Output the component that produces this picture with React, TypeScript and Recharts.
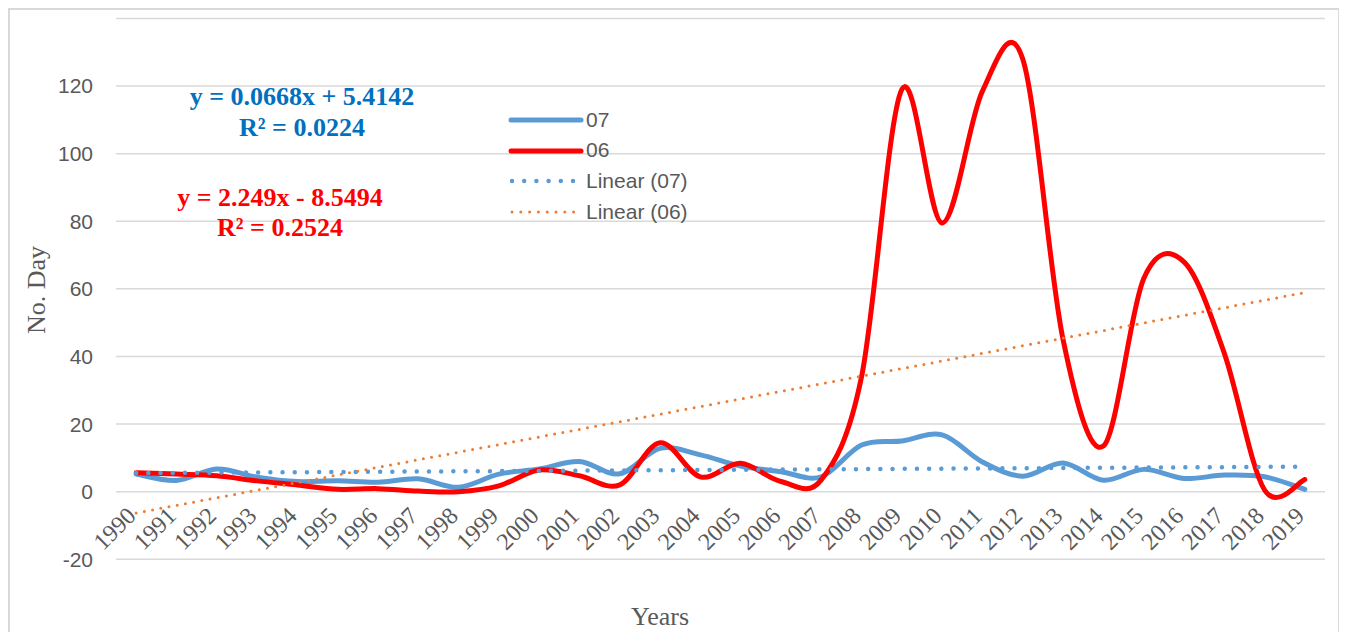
import React from "react";
import { LineChart, Line, XAxis, YAxis, CartesianGrid, Legend } from "recharts";

const years = [
  1990, 1991, 1992, 1993, 1994, 1995, 1996, 1997, 1998, 1999,
  2000, 2001, 2002, 2003, 2004, 2005, 2006, 2007, 2008, 2009,
  2010, 2011, 2012, 2013, 2014, 2015, 2016, 2017, 2018, 2019,
];
const days07 = [
  5.2, 3.3, 6.7, 4.3, 3.0, 3.2, 2.8, 3.8, 1.3, 5.2,
  6.7, 8.9, 5.3, 12.8, 10.9, 7.6, 5.9, 4.4, 13.8, 15.0,
  16.8, 8.8, 4.6, 8.5, 3.4, 6.6, 3.9, 4.9, 4.4, 0.7,
];
const days06 = [
  5.6, 5.2, 4.7, 3.2, 2.0, 0.7, 0.9, 0.2, 0.0, 1.7,
  6.4, 4.7, 2.0, 14.5, 4.4, 8.4, 3.0, 3.5, 34, 119,
  79.5, 118.5, 128, 45, 13.5, 63, 68, 41, 0.5, 3.6,
];
// trend line end points (1990 and 2019) as drawn
const trendYears = [1990, 2019];
const trend07 = [5.5, 7.4];
const trend06 = [-6.3, 58.9];
const yTicks = [-20, 0, 20, 40, 60, 80, 100, 120];

const rows = years.map((year, i) => {
  const t = trendYears.indexOf(year);
  return {
    year,
    s07: days07[i],
    s06: days06[i],
    t07: t >= 0 ? trend07[t] : null,
    t06: t >= 0 ? trend06[t] : null,
  };
});

// Excel-like smoothed line (bezier, 1/6 tangents)
const excelSmooth = (context: any) => {
  let pts: number[][] = [];
  return {
    areaStart() {},
    areaEnd() {},
    lineStart() {
      pts = [];
    },
    point(x: number, y: number) {
      pts.push([+x, +y]);
    },
    lineEnd() {
      const n = pts.length;
      if (!n) return;
      context.moveTo(pts[0][0], pts[0][1]);
      for (let i = 0; i < n - 1; i++) {
        const p0 = pts[i - 1] || pts[i];
        const p1 = pts[i];
        const p2 = pts[i + 1];
        const p3 = pts[i + 2] || p2;
        context.bezierCurveTo(
          p1[0] + (p2[0] - p0[0]) / 6,
          p1[1] + (p2[1] - p0[1]) / 6,
          p2[0] - (p3[0] - p1[0]) / 6,
          p2[1] - (p3[1] - p1[1]) / 6,
          p2[0],
          p2[1]
        );
      }
    },
  };
};

const SANS = "'Liberation Sans', Arial, sans-serif";
const SERIF = "'Liberation Serif', 'Times New Roman', serif";
const GREY = "#595959";

const legendItems = [
  { name: "07", color: "#5B9BD5", width: 5, dash: undefined as string | undefined },
  { name: "06", color: "#FF0000", width: 5, dash: undefined as string | undefined },
  { name: "Linear (07)", color: "#5B9BD5", width: 4.5, dash: "0 12.2" },
  { name: "Linear (06)", color: "#ED7D31", width: 3, dash: "0 8.8" },
];

const renderLegend = () => (
  <div style={{ fontFamily: SANS, fontSize: 21, color: GREY }}>
    {legendItems.map((it) => (
      <div key={it.name} style={{ display: "flex", alignItems: "center", height: 30.7 }}>
        <svg width={78} height={12} style={{ display: "block" }}>
          <line
            x1={it.dash ? 4 : 3}
            x2={it.dash ? 66 : 73}
            y1={6}
            y2={6}
            stroke={it.color}
            strokeWidth={it.width}
            strokeLinecap="round"
            strokeDasharray={it.dash}
          />
        </svg>
        <span style={{ lineHeight: "30.7px" }}>{it.name}</span>
      </div>
    ))}
  </div>
);

const XTick = (props: any) => {
  const { x, y, payload } = props;
  return (
    <g transform={`translate(${x + 1},${y - 50})`}>
      <text
        transform="rotate(-45)"
        textAnchor="end"
        fill={GREY}
        fontFamily={SERIF}
        fontSize={24}
      >
        {payload.value}
      </text>
    </g>
  );
};

export default function App() {
  return (
    <div
      style={{
        width: 1332,
        height: 624,
        boxSizing: "border-box",
        borderTop: "2px solid #D9D9D9",
        borderLeft: "2px solid #D9D9D9",
        borderRight: "2px solid #D9D9D9",
        background: "#fff",
        position: "relative",
      }}
    >
      <LineChart
        width={1328}
        height={622}
        data={rows}
        margin={{ top: 8.4, right: 13, left: 46, bottom: 0 }}
      >
        <CartesianGrid vertical={false} stroke="#D9D9D9" strokeWidth={1.5} />
        <XAxis
          dataKey="year"
          type="number"
          domain={[1989.5, 2019.5]}
          ticks={years}
          interval={0}
          height={72.7}
          axisLine={false}
          tickLine={false}
          tick={<XTick />}
        />
        <YAxis
          type="number"
          domain={[-20, 140]}
          ticks={yTicks}
          width={60}
          axisLine={false}
          tickLine={false}
          tickMargin={17}
          tick={{ fill: GREY, fontSize: 21, fontFamily: SANS }}
        />
        <Legend
          layout="vertical"
          align="center"
          verticalAlign="middle"
          content={renderLegend}
          wrapperStyle={{ left: 498, top: 94.6, width: 230 }}
        />
        <Line
          dataKey="s07"
          name="07"
          type={excelSmooth as any}
          stroke="#5B9BD5"
          strokeWidth={5}
          strokeLinecap="round"
          dot={false}
          activeDot={false}
          isAnimationActive={false}
        />
        <Line
          dataKey="s06"
          name="06"
          type={excelSmooth as any}
          stroke="#FF0000"
          strokeWidth={5}
          strokeLinecap="round"
          dot={false}
          activeDot={false}
          isAnimationActive={false}
        />
        <Line
          dataKey="t07"
          name="Linear (07)"
          type="linear"
          connectNulls
          stroke="#5B9BD5"
          strokeWidth={4.5}
          strokeLinecap="round"
          strokeDasharray="0 12.2"
          dot={false}
          activeDot={false}
          isAnimationActive={false}
        />
        <Line
          dataKey="t06"
          name="Linear (06)"
          type="linear"
          connectNulls
          stroke="#ED7D31"
          strokeWidth={3}
          strokeLinecap="round"
          strokeDasharray="0 8.35"
          dot={false}
          activeDot={false}
          isAnimationActive={false}
        />
        <text
          x={26.5}
          y={280}
          transform="rotate(-90 26.5 280)"
          textAnchor="middle"
          dominantBaseline="central"
          fill={GREY}
          fontFamily={SERIF}
          fontSize={26}
        >
          No. Day
        </text>
        <text x={650} y={615} textAnchor="middle" fill={GREY} fontFamily={SERIF} fontSize={26}>
          Years
        </text>
        <g fontFamily={SERIF} fontSize={26} fontWeight="bold" textAnchor="middle">
          <text x={292} y={95} fill="#0070C0">y = 0.0668x + 5.4142</text>
          <text x={292} y={126} fill="#0070C0">R² = 0.0224</text>
          <text x={270} y={196} fill="#FF0000">y = 2.249x - 8.5494</text>
          <text x={270} y={225.7} fill="#FF0000">R² = 0.2524</text>
        </g>
      </LineChart>
    </div>
  );
}
